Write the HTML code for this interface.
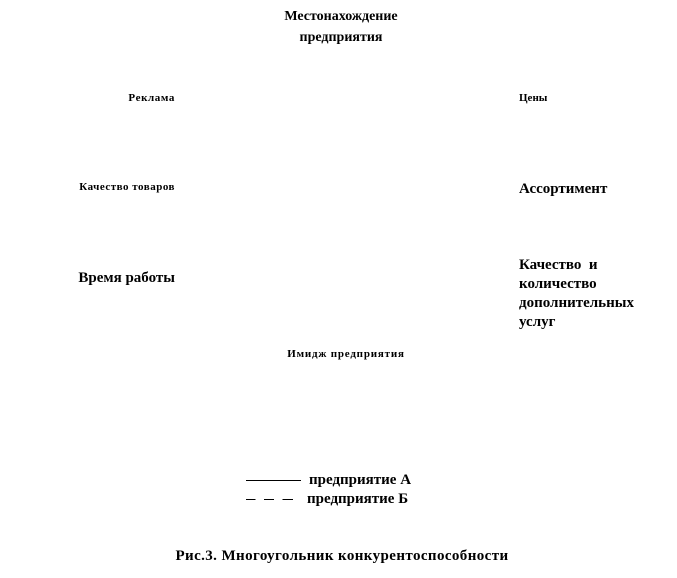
<!DOCTYPE html>
<html><head><meta charset="utf-8"><style>
html,body{margin:0;padding:0;background:#fff;}
body{width:677px;height:578px;position:relative;overflow:hidden;font-family:"Liberation Serif","Noto Serif CJK SC",serif;font-weight:bold;color:#000;}
.t{position:absolute;white-space:nowrap;line-height:1;}
.r{text-align:right;}
</style></head><body>
<div class="t" style="left:241px;width:200px;text-align:center;top:10px;font-size:14px;">Местонахождение</div>
<div class="t" style="left:241px;width:200px;text-align:center;top:31px;font-size:14px;">предприятия</div>
<div class="t r" style="right:502px;top:93px;font-size:11px;letter-spacing:0.6px;">Реклама</div>
<div class="t" style="left:519px;top:93px;font-size:11px;">Цены</div>
<div class="t r" style="right:502px;top:182px;font-size:11px;letter-spacing:0.5px;">Качество товаров</div>
<div class="t" style="left:519px;top:182px;font-size:15px;">Ассортимент</div>
<div class="t r" style="right:502px;top:271px;font-size:15px;">Время работы</div>
<div class="t" style="left:519px;top:256px;font-size:15px;line-height:19px;">Качество&nbsp; и<br>количество<br>дополнительных<br>услуг</div>
<div class="t" style="left:246px;width:200px;text-align:center;top:349px;font-size:11px;letter-spacing:0.8px;">Имидж предприятия</div>
<div style="position:absolute;left:246px;top:480px;width:55px;height:1px;background:#000;"></div>
<div class="t" style="left:309px;top:473px;font-size:15px;">предприятие А</div>
<div style="position:absolute;left:246px;top:499px;width:47px;height:0;border-top:1px dashed #000;border-image:repeating-linear-gradient(90deg,#000 0 10px,transparent 10px 18px) 1;"></div>
<div class="t" style="left:307px;top:492px;font-size:15px;">предприятие Б</div>
<div class="t" style="left:163px;width:358px;text-align:center;top:549px;font-size:15px;letter-spacing:0.4px;">Рис.3. Многоугольник конкурентоспособности</div>
</body></html>
